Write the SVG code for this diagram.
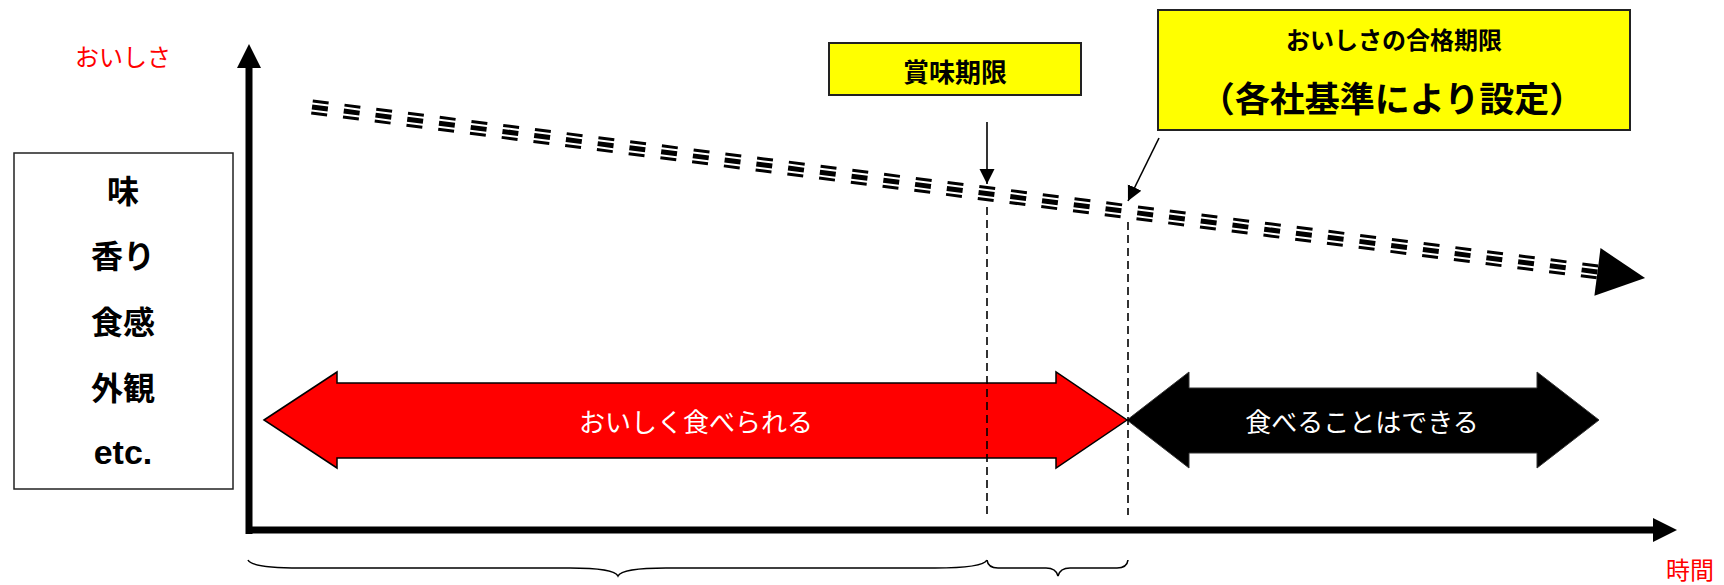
<svg xmlns="http://www.w3.org/2000/svg" width="1724" height="585" viewBox="0 0 1724 585">
<style>
.jp{font-family:"Noto Sans CJK JP","Noto Sans",sans-serif;}
.b{font-weight:bold;}
.red{fill:#ff0000;}
.c{text-anchor:middle;dominant-baseline:central;}
.box{fill:#ffffff;stroke:#222;stroke-width:1.5;}
.ybox{fill:#ffff00;stroke:#222;stroke-width:2;}
.vd{stroke:#000;stroke-width:1.6;stroke-dasharray:8 5;fill:none;}
.brace{fill:none;stroke:#000;stroke-width:1.6;}
.thin{stroke:#000;stroke-width:1.6;fill:none;}
</style>
<defs>
<marker id="ah" markerUnits="userSpaceOnUse" markerWidth="16" markerHeight="16" refX="15" refY="8" orient="auto">
<path d="M0,0.5 L15,8 L0,15.5 Z" fill="#000"/>
</marker>
</defs>

<g id="label-oishisa"><text class="jp red c" x="123" y="55" font-size="24">おいしさ</text></g>
<g id="label-jikan"><text class="jp red c" x="1690" y="568" font-size="24">時間</text></g>

<g id="factors">
<rect class="box" x="14" y="153" width="219" height="336"/>
<text class="jp b c" x="123" y="189" font-size="32">味</text>
<text class="jp b c" x="123" y="254" font-size="32">香り</text>
<text class="jp b c" x="123" y="320" font-size="32">食感</text>
<text class="jp b c" x="123" y="386" font-size="32">外観</text>
<text class="b c" x="123" y="452" font-size="34" font-family="Liberation Sans, Arial, sans-serif">etc.</text>
</g>

<g id="shoumikigen">
<rect class="ybox" x="829" y="43" width="252" height="52"/>
<text class="jp b c" x="955" y="70" font-size="26">賞味期限</text>
</g>

<g id="goukaku">
<rect class="ybox" x="1158" y="10" width="472" height="120"/>
<text class="jp b c" x="1394" y="38" font-size="24">おいしさの合格期限</text>
<text class="jp b c" x="1392" y="96" font-size="35">（各社基準により設定）</text>
</g>

<g id="oishiku">
<polygon points="264,420 337,372 337,383 1056,383 1056,372 1127,420 1056,468 1056,458 337,458 337,468" fill="#ff0000" stroke="#000" stroke-width="1.5"/>
<text class="jp c" x="696" y="420" font-size="26" fill="#ffffff">おいしく食べられる</text>
</g>

<g id="taberu">
<polygon points="1127,420 1189,372 1189,388 1537,388 1537,372 1599,420 1537,468 1537,453 1189,453 1189,468" fill="#000" stroke="#333" stroke-width="1"/>
<text class="jp c" x="1362" y="420" font-size="26" fill="#ffffff">食べることはできる</text>
</g>

<g id="connectors">
<line x1="249" y1="66" x2="249" y2="534" stroke="#000" stroke-width="7"/>
<polygon points="249,44 261,68 237,68" fill="#000"/>
<line x1="246" y1="530" x2="1655" y2="530" stroke="#000" stroke-width="7"/>
<polygon points="1677,530 1653,518 1653,542" fill="#000"/>
<g transform="translate(312,107) rotate(7.31)">
<g stroke="#000" fill="none" stroke-dasharray="16 16">
<line x1="0" y1="-6" x2="1296" y2="-6" stroke-width="3"/>
<line x1="0" y1="0" x2="1296" y2="0" stroke-width="5"/>
<line x1="0" y1="6" x2="1296" y2="6" stroke-width="3"/>
</g>
<polygon points="1296,-24 1344,0 1296,24" fill="#000"/>
</g>
<line class="thin" x1="987" y1="122" x2="987" y2="184" marker-end="url(#ah)"/>
<line class="thin" x1="1159" y1="138" x2="1128" y2="201" marker-end="url(#ah)"/>
<line class="vd" x1="987" y1="207" x2="987" y2="515"/>
<line class="vd" x1="1128" y1="222" x2="1128" y2="515"/>
<path class="brace" d="M248,560 Q252,568 300,568 L570,568 Q614,568 618,576 Q622,568 666,568 L935,568 Q983,568 987,560"/>
<path class="brace" d="M987,560 Q988,568 998,568 L1046,568 Q1056,568 1058,576 Q1060,568 1070,568 L1117,568 Q1127,568 1128,560"/>
</g>
</svg>
